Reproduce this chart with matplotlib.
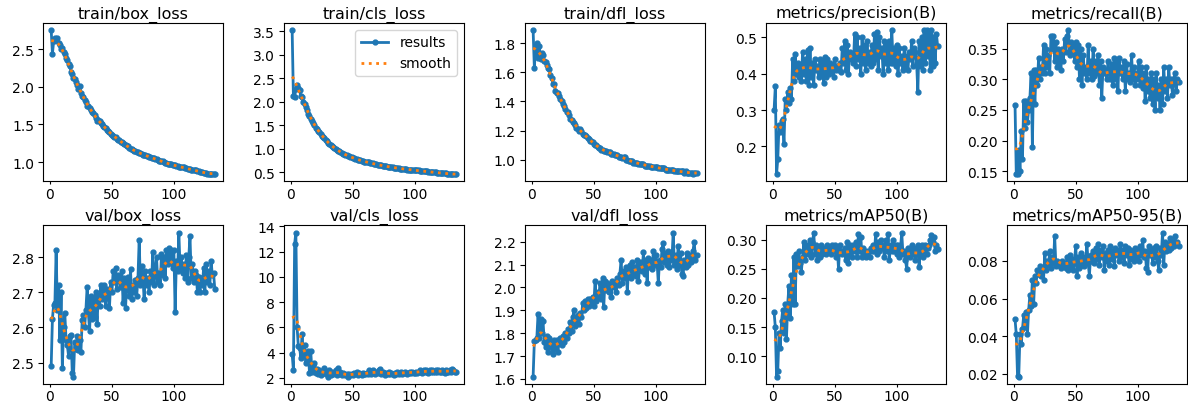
import numpy as np
import matplotlib
matplotlib.use("Agg")
import matplotlib.pyplot as plt
from matplotlib.ticker import MultipleLocator

epochs = list(range(1, 134))

titles = ["train/box_loss", "train/cls_loss", "train/dfl_loss",
          "metrics/precision(B)", "metrics/recall(B)",
          "val/box_loss", "val/cls_loss", "val/dfl_loss",
          "metrics/mAP50(B)", "metrics/mAP50-95(B)"]

train_box = [2.75,2.44,2.60,2.65,2.62,2.65,2.58,2.55,2.50,2.52,
 2.46,2.44,2.38,2.36,2.30,2.28,2.20,2.17,2.12,2.10,
 2.06,2.02,1.97,2.01,1.92,1.88,1.87,1.82,1.80,1.75,
 1.74,1.72,1.69,1.66,1.65,1.62,1.59,1.55,1.56,1.54,
 1.52,1.50,1.48,1.46,1.45,1.43,1.41,1.40,1.38,1.36,
 1.35,1.34,1.33,1.31,1.30,1.29,1.27,1.27,1.25,1.24,
 1.23,1.21,1.21,1.19,1.18,1.17,1.16,1.15,1.15,1.14,
 1.13,1.12,1.12,1.11,1.10,1.10,1.09,1.08,1.08,1.07,
 1.07,1.06,1.05,1.05,1.04,1.04,1.03,1.02,1.02,1.01,
 1.01,1.00,0.99,0.99,0.98,0.98,0.97,0.97,0.96,0.96,
 0.96,0.95,0.95,0.94,0.94,0.93,0.93,0.93,0.92,0.92,
 0.91,0.91,0.91,0.90,0.90,0.89,0.89,0.89,0.88,0.88,
 0.87,0.87,0.87,0.86,0.86,0.86,0.85,0.85,0.85,0.85,
 0.84,0.85,0.84]

train_cls = [3.52,2.12,2.10,2.27,2.35,2.30,2.25,2.12,2.10,2.00,
 1.95,1.88,1.82,1.75,1.70,1.64,1.60,1.55,1.50,1.45,
 1.42,1.38,1.35,1.31,1.28,1.25,1.22,1.19,1.16,1.13,
 1.11,1.08,1.06,1.04,1.02,1.00,0.98,0.96,0.95,0.93,
 0.91,0.90,0.89,0.87,0.86,0.85,0.84,0.83,0.82,0.81,
 0.80,0.79,0.78,0.77,0.76,0.76,0.75,0.74,0.73,0.73,
 0.72,0.71,0.71,0.70,0.69,0.69,0.68,0.67,0.67,0.66,
 0.66,0.65,0.65,0.64,0.64,0.63,0.63,0.62,0.62,0.61,
 0.61,0.61,0.60,0.60,0.59,0.59,0.59,0.58,0.58,0.58,
 0.57,0.57,0.57,0.56,0.56,0.56,0.55,0.55,0.55,0.54,
 0.54,0.54,0.54,0.53,0.53,0.53,0.52,0.52,0.52,0.52,
 0.51,0.51,0.51,0.50,0.50,0.50,0.50,0.49,0.49,0.49,
 0.49,0.48,0.48,0.48,0.48,0.47,0.47,0.47,0.47,0.46,
 0.46,0.46,0.46]

train_dfl = [1.89,1.63,1.78,1.80,1.70,1.78,1.69,1.73,1.72,1.68,
 1.67,1.65,1.63,1.62,1.58,1.56,1.52,1.52,1.47,1.46,
 1.46,1.44,1.42,1.40,1.38,1.37,1.35,1.33,1.33,1.31,
 1.28,1.27,1.26,1.25,1.24,1.22,1.21,1.20,1.21,1.20,
 1.18,1.17,1.17,1.16,1.15,1.14,1.13,1.13,1.12,1.11,
 1.10,1.10,1.09,1.08,1.08,1.07,1.07,1.06,1.06,1.06,
 1.05,1.05,1.05,1.04,1.04,1.04,1.03,1.03,1.03,1.02,
 1.02,1.02,1.01,1.02,1.02,1.00,1.00,0.99,0.99,0.99,
 0.99,0.98,0.98,0.98,0.98,0.97,0.97,0.97,0.97,0.97,
 0.96,0.96,0.96,0.96,0.96,0.95,0.95,0.95,0.95,0.95,
 0.95,0.94,0.94,0.94,0.94,0.94,0.94,0.93,0.93,0.93,
 0.93,0.93,0.93,0.93,0.92,0.92,0.92,0.92,0.92,0.92,
 0.92,0.92,0.91,0.92,0.91,0.91,0.91,0.91,0.91,0.90,
 0.91,0.91,0.91]

precision = [0.30,0.365,0.123,0.165,0.26,0.24,0.27,0.275,0.205,0.33,
 0.30,0.35,0.32,0.36,0.33,0.44,0.38,0.455,0.40,0.43,
 0.39,0.42,0.38,0.46,0.40,0.44,0.38,0.465,0.37,0.47,
 0.39,0.43,0.37,0.44,0.41,0.42,0.39,0.44,0.40,0.43,
 0.375,0.445,0.39,0.44,0.40,0.43,0.41,0.42,0.39,0.44,
 0.41,0.42,0.41,0.43,0.405,0.47,0.43,0.49,0.41,0.48,
 0.40,0.46,0.44,0.45,0.43,0.51,0.42,0.50,0.44,0.47,
 0.40,0.50,0.43,0.48,0.41,0.49,0.43,0.46,0.42,0.48,
 0.43,0.51,0.44,0.515,0.41,0.50,0.45,0.47,0.40,0.49,
 0.43,0.48,0.41,0.49,0.43,0.52,0.43,0.47,0.42,0.48,
 0.40,0.47,0.43,0.45,0.41,0.47,0.42,0.45,0.41,0.46,
 0.44,0.49,0.42,0.47,0.46,0.43,0.35,0.49,0.42,0.50,
 0.41,0.52,0.43,0.52,0.45,0.51,0.41,0.52,0.42,0.50,
 0.43,0.51,0.475]

recall = [0.258,0.145,0.145,0.185,0.15,0.215,0.17,0.265,0.22,0.265,
 0.23,0.25,0.27,0.31,0.19,0.315,0.26,0.315,0.29,0.335,
 0.30,0.32,0.31,0.355,0.31,0.35,0.32,0.34,0.31,0.37,
 0.35,0.37,0.33,0.36,0.32,0.35,0.34,0.315,0.35,0.33,
 0.365,0.345,0.37,0.38,0.34,0.36,0.345,0.355,0.33,0.36,
 0.32,0.355,0.30,0.35,0.29,0.34,0.31,0.32,0.30,0.355,
 0.31,0.33,0.30,0.35,0.305,0.33,0.31,0.34,0.29,0.33,
 0.27,0.32,0.31,0.315,0.30,0.33,0.31,0.30,0.325,0.29,
 0.335,0.30,0.33,0.28,0.335,0.31,0.32,0.30,0.33,0.28,
 0.325,0.30,0.31,0.295,0.34,0.30,0.32,0.29,0.31,0.30,
 0.33,0.29,0.32,0.285,0.31,0.265,0.32,0.28,0.30,0.27,
 0.31,0.26,0.30,0.25,0.31,0.27,0.29,0.25,0.30,0.26,
 0.32,0.28,0.30,0.27,0.32,0.29,0.30,0.275,0.30,0.31,
 0.28,0.30,0.295]

val_box = [2.49,2.625,2.665,2.67,2.82,2.65,2.72,2.565,2.70,2.485,
 2.60,2.64,2.565,2.55,2.52,2.575,2.58,2.47,2.46,2.56,
 2.54,2.575,2.535,2.565,2.53,2.62,2.635,2.60,2.65,2.715,
 2.64,2.59,2.69,2.625,2.68,2.63,2.70,2.61,2.69,2.66,
 2.72,2.68,2.705,2.72,2.66,2.71,2.70,2.655,2.73,2.70,
 2.76,2.73,2.77,2.71,2.75,2.74,2.715,2.76,2.67,2.74,
 2.655,2.73,2.745,2.69,2.765,2.68,2.72,2.70,2.735,2.69,
 2.74,2.85,2.72,2.775,2.745,2.68,2.76,2.72,2.74,2.70,
 2.76,2.73,2.815,2.72,2.76,2.80,2.73,2.755,2.72,2.81,
 2.75,2.80,2.74,2.82,2.78,2.825,2.79,2.82,2.77,2.82,
 2.645,2.79,2.76,2.87,2.77,2.80,2.755,2.78,2.74,2.805,
 2.73,2.80,2.86,2.74,2.78,2.73,2.76,2.75,2.70,2.745,
 2.70,2.74,2.72,2.77,2.70,2.78,2.73,2.76,2.72,2.79,
 2.75,2.755,2.71]

val_cls = [3.9,2.6,12.6,13.5,6.0,4.5,4.4,3.6,5.5,3.8,
 4.6,3.2,3.5,4.1,2.4,4.1,2.5,3.0,3.2,2.4,
 2.7,2.3,2.6,2.2,2.5,2.4,2.8,2.3,2.5,2.1,
 2.6,2.2,2.5,2.3,2.4,2.6,2.2,2.8,2.3,2.5,
 2.2,2.4,2.3,2.2,2.3,2.1,2.3,2.2,2.3,2.2,
 2.4,2.3,2.5,2.2,2.4,2.3,2.2,2.4,2.3,2.3,
 2.4,2.3,2.6,2.4,2.3,2.6,2.4,2.3,2.5,2.4,
 2.6,2.7,2.3,2.5,2.4,2.2,2.4,2.3,2.5,2.3,
 2.4,2.3,2.2,2.4,2.3,2.5,2.3,2.4,2.5,2.3,
 2.4,2.5,2.4,2.3,2.4,2.5,2.4,2.5,2.4,2.4,
 2.5,2.4,2.5,2.6,2.5,2.4,2.6,2.5,2.6,2.5,
 2.4,2.6,2.5,2.6,2.5,2.5,2.6,2.5,2.6,2.5,
 2.5,2.6,2.5,2.4,2.6,2.5,2.5,2.6,2.5,2.7,
 2.6,2.5,2.5]

val_dfl = [1.61,1.765,1.77,1.78,1.885,1.78,1.86,1.80,1.855,1.76,
 1.74,1.79,1.72,1.78,1.74,1.76,1.71,1.77,1.73,1.77,
 1.72,1.76,1.78,1.75,1.79,1.76,1.80,1.78,1.82,1.80,
 1.85,1.81,1.87,1.90,1.83,1.86,1.88,1.84,1.89,1.87,
 1.93,1.90,1.94,1.91,1.95,1.92,1.95,1.93,1.96,1.92,
 2.03,1.94,1.98,1.96,2.02,1.95,2.04,1.915,2.03,1.99,
 2.02,1.98,2.01,1.96,2.03,2.00,2.02,1.98,2.04,2.01,
 2.06,2.12,2.02,2.07,2.04,2.09,1.98,2.08,2.10,2.04,
 2.11,2.06,2.09,2.05,2.12,2.03,2.08,2.11,2.07,2.155,
 2.06,2.12,2.02,2.13,2.09,2.12,2.08,2.16,2.10,2.14,
 2.11,2.02,2.12,2.09,2.17,2.195,2.11,2.15,2.10,2.16,
 2.09,2.15,2.12,2.24,2.10,2.14,2.08,2.18,2.10,2.15,
 2.06,2.05,2.12,2.09,2.15,2.10,2.14,2.11,2.13,2.16,
 2.20,2.12,2.14]

map50 = [0.176,0.15,0.065,0.075,0.14,0.115,0.16,0.18,0.14,0.19,
 0.13,0.19,0.22,0.165,0.24,0.19,0.27,0.19,0.275,0.255,
 0.28,0.26,0.245,0.27,0.295,0.265,0.29,0.275,0.285,0.30,
 0.27,0.295,0.312,0.275,0.29,0.265,0.285,0.27,0.29,0.275,
 0.28,0.285,0.275,0.29,0.28,0.285,0.275,0.29,0.28,0.29,
 0.27,0.285,0.25,0.29,0.28,0.275,0.28,0.285,0.265,0.295,
 0.26,0.29,0.28,0.27,0.29,0.28,0.295,0.27,0.31,0.28,
 0.305,0.27,0.285,0.28,0.27,0.275,0.28,0.27,0.285,0.28,
 0.29,0.28,0.31,0.275,0.295,0.28,0.30,0.29,0.285,0.27,
 0.30,0.28,0.31,0.265,0.29,0.28,0.30,0.28,0.29,0.275,
 0.29,0.27,0.285,0.312,0.275,0.28,0.265,0.25,0.285,0.28,
 0.27,0.29,0.275,0.285,0.265,0.28,0.29,0.253,0.28,0.29,
 0.27,0.28,0.29,0.275,0.285,0.29,0.30,0.307,0.295,0.305,
 0.28,0.29,0.283]

map50_95 = [0.049,0.041,0.019,0.0185,0.041,0.036,0.044,0.051,0.045,0.053,
 0.041,0.054,0.062,0.056,0.070,0.057,0.072,0.068,0.075,0.073,
 0.077,0.072,0.075,0.070,0.084,0.075,0.080,0.078,0.085,0.076,
 0.082,0.079,0.093,0.077,0.080,0.078,0.079,0.076,0.080,0.077,
 0.079,0.076,0.082,0.075,0.083,0.077,0.081,0.075,0.080,0.088,
 0.072,0.082,0.076,0.084,0.078,0.082,0.077,0.080,0.089,0.079,
 0.072,0.083,0.080,0.085,0.079,0.087,0.081,0.089,0.078,0.086,
 0.082,0.088,0.075,0.084,0.080,0.086,0.078,0.088,0.081,0.085,
 0.077,0.087,0.083,0.086,0.080,0.089,0.082,0.086,0.079,0.088,
 0.083,0.087,0.078,0.086,0.081,0.085,0.080,0.087,0.082,0.086,
 0.080,0.088,0.083,0.091,0.082,0.085,0.076,0.074,0.088,0.083,
 0.086,0.079,0.087,0.082,0.088,0.080,0.075,0.087,0.083,0.095,
 0.078,0.090,0.085,0.089,0.086,0.092,0.087,0.090,0.088,0.093,
 0.089,0.090,0.088]

series = [train_box, train_cls, train_dfl, precision, recall,
          val_box, val_cls, val_dfl, map50, map50_95]

# y tick spacing of each panel (style)
ytick_steps = [0.5, 0.5, 0.2, 0.1, 0.05, 0.1, 2, 0.1, 0.05, 0.02]


def gaussian_smooth(y, sigma=3.0, truncate=4.0):
    y = np.asarray(y, dtype=float)
    r = int(truncate * sigma + 0.5)
    k = np.arange(-r, r + 1)
    w = np.exp(-0.5 * (k / sigma) ** 2)
    w /= w.sum()
    padded = np.concatenate([y[:r][::-1], y, y[-r:][::-1]])
    return np.convolve(padded, w, mode="valid")


fig, axes = plt.subplots(2, 5, figsize=(11.88, 4.06), dpi=100)
fig.subplots_adjust(left=0.0362, right=0.999, top=0.941, bottom=0.052,
                    wspace=0.339, hspace=0.277)
axes = axes.ravel()
x = np.array(epochs)
for ax, title, y, step in zip(axes, titles, series, ytick_steps):
    ax.plot(x, y, marker=".", label="results", linewidth=2, markersize=7,
            color="#1f77b4")
    ax.plot(x, gaussian_smooth(y), ":", label="smooth", linewidth=2,
            color="#ff7f0e")
    ax.set_title(title, fontsize=11.5, pad=4)
    ax.yaxis.set_major_locator(MultipleLocator(step))
    ax.xaxis.set_major_locator(MultipleLocator(50))
    ax.tick_params(axis="y", labelsize=10, length=3.5, pad=3)
    ax.tick_params(axis="x", labelsize=10, length=2.5, pad=1.5)
axes[1].legend(fontsize=10)

fig.savefig("out.png", dpi=100)
